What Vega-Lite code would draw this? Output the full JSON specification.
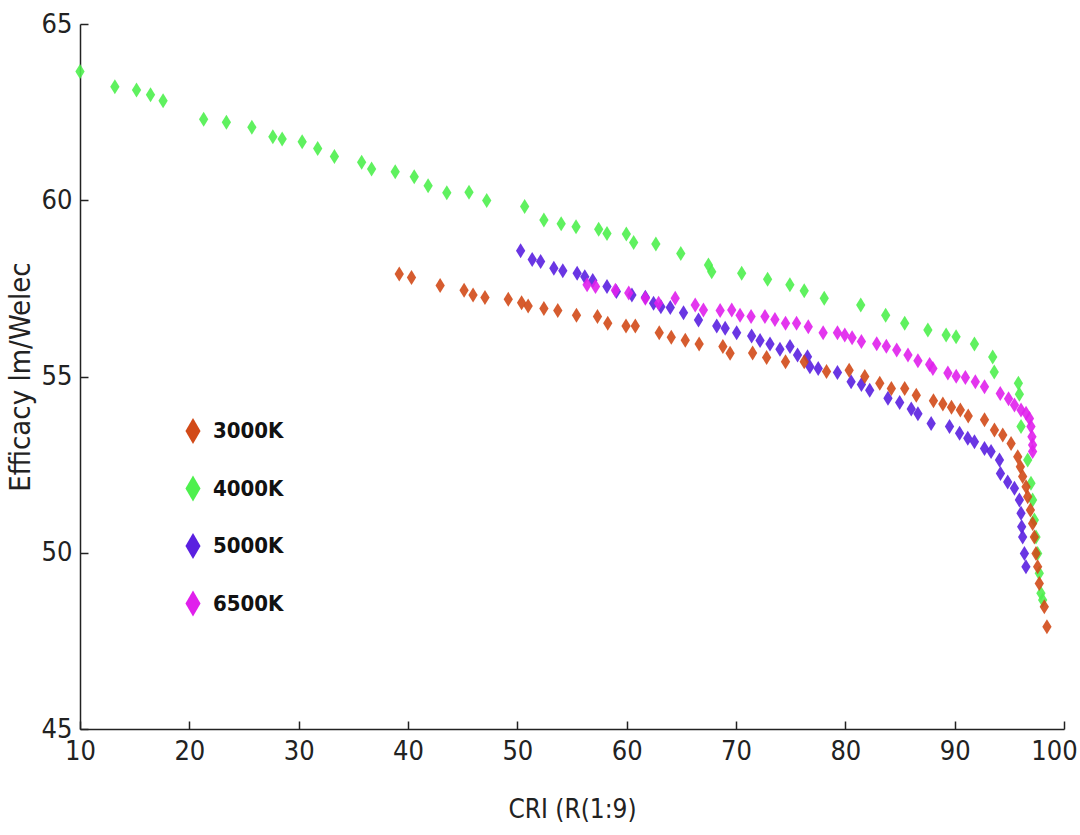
{
  "$schema": "https://vega.github.io/schema/vega-lite/v6.json",
  "width": 984,
  "height": 705,
  "autosize": {"type": "none"},
  "padding": {"left": 80, "top": 24, "right": 16, "bottom": 106},
  "background": "white",
  "config": {
    "view": {"stroke": null},
    "font": "Liberation Sans Narrow, DejaVu Sans Condensed, Liberation Sans",
    "axis": {
      "grid": false,
      "domainColor": "#222",
      "domainWidth": 1.5,
      "tickColor": "#222",
      "tickWidth": 1.5,
      "tickSize": -8,
      "labelPadding": 17,
      "labelColor": "#222",
      "labelFontSize": 27,
      "labelFont": "Liberation Sans Narrow, DejaVu Sans Condensed, Liberation Sans",
      "titleColor": "#222",
      "titleFontSize": 26,
      "titleFontWeight": "normal",
      "titleFont": "Liberation Sans Narrow, DejaVu Sans Condensed, Liberation Sans"
    }
  },
  "data": {
    "values": [
      {"cct": "4000K", "cri": 10.0, "eff": 63.65},
      {"cct": "4000K", "cri": 13.19, "eff": 63.22},
      {"cct": "4000K", "cri": 15.17, "eff": 63.13},
      {"cct": "4000K", "cri": 16.45, "eff": 62.99},
      {"cct": "4000K", "cri": 17.6, "eff": 62.82},
      {"cct": "4000K", "cri": 21.31, "eff": 62.3},
      {"cct": "4000K", "cri": 23.39, "eff": 62.21},
      {"cct": "4000K", "cri": 25.72, "eff": 62.07},
      {"cct": "4000K", "cri": 27.64, "eff": 61.8},
      {"cct": "4000K", "cri": 28.49, "eff": 61.74},
      {"cct": "4000K", "cri": 30.32, "eff": 61.66},
      {"cct": "4000K", "cri": 31.74, "eff": 61.47},
      {"cct": "4000K", "cri": 33.27, "eff": 61.24},
      {"cct": "4000K", "cri": 35.76, "eff": 61.08},
      {"cct": "4000K", "cri": 36.67, "eff": 60.89},
      {"cct": "4000K", "cri": 38.83, "eff": 60.81},
      {"cct": "4000K", "cri": 40.57, "eff": 60.67},
      {"cct": "4000K", "cri": 41.84, "eff": 60.41},
      {"cct": "4000K", "cri": 43.55, "eff": 60.21},
      {"cct": "4000K", "cri": 45.58, "eff": 60.23},
      {"cct": "4000K", "cri": 47.2, "eff": 59.99},
      {"cct": "4000K", "cri": 50.67, "eff": 59.82},
      {"cct": "4000K", "cri": 52.43, "eff": 59.44},
      {"cct": "4000K", "cri": 54.01, "eff": 59.33},
      {"cct": "4000K", "cri": 55.37, "eff": 59.25},
      {"cct": "4000K", "cri": 57.44, "eff": 59.18},
      {"cct": "4000K", "cri": 58.2, "eff": 59.06},
      {"cct": "4000K", "cri": 59.97, "eff": 59.04},
      {"cct": "4000K", "cri": 60.64, "eff": 58.8},
      {"cct": "4000K", "cri": 62.67, "eff": 58.76},
      {"cct": "4000K", "cri": 64.95, "eff": 58.49},
      {"cct": "4000K", "cri": 67.48, "eff": 58.16},
      {"cct": "4000K", "cri": 67.78, "eff": 57.97},
      {"cct": "4000K", "cri": 70.52, "eff": 57.93},
      {"cct": "4000K", "cri": 72.89, "eff": 57.76},
      {"cct": "4000K", "cri": 74.93, "eff": 57.6},
      {"cct": "4000K", "cri": 76.24, "eff": 57.43},
      {"cct": "4000K", "cri": 78.07, "eff": 57.22},
      {"cct": "4000K", "cri": 81.41, "eff": 57.03},
      {"cct": "4000K", "cri": 83.69, "eff": 56.74},
      {"cct": "4000K", "cri": 85.43, "eff": 56.51},
      {"cct": "4000K", "cri": 87.55, "eff": 56.32},
      {"cct": "4000K", "cri": 89.22, "eff": 56.18},
      {"cct": "4000K", "cri": 90.13, "eff": 56.13},
      {"cct": "4000K", "cri": 91.81, "eff": 55.92},
      {"cct": "4000K", "cri": 93.48, "eff": 55.55},
      {"cct": "4000K", "cri": 93.62, "eff": 55.13},
      {"cct": "4000K", "cri": 95.83, "eff": 54.81},
      {"cct": "4000K", "cri": 95.92, "eff": 54.5},
      {"cct": "4000K", "cri": 96.07, "eff": 53.58},
      {"cct": "4000K", "cri": 96.68, "eff": 52.63},
      {"cct": "4000K", "cri": 96.98, "eff": 51.97},
      {"cct": "4000K", "cri": 97.13, "eff": 51.5},
      {"cct": "4000K", "cri": 97.29, "eff": 50.93},
      {"cct": "4000K", "cri": 97.44, "eff": 50.45},
      {"cct": "4000K", "cri": 97.59, "eff": 49.98},
      {"cct": "4000K", "cri": 97.74, "eff": 49.42},
      {"cct": "4000K", "cri": 97.89, "eff": 48.85},
      {"cct": "4000K", "cri": 98.05, "eff": 48.66},

      {"cct": "5000K", "cri": 50.3, "eff": 58.57},
      {"cct": "5000K", "cri": 51.36, "eff": 58.32},
      {"cct": "5000K", "cri": 52.13, "eff": 58.26},
      {"cct": "5000K", "cri": 53.34, "eff": 58.07},
      {"cct": "5000K", "cri": 54.16, "eff": 58.0},
      {"cct": "5000K", "cri": 55.47, "eff": 57.93},
      {"cct": "5000K", "cri": 56.17, "eff": 57.83},
      {"cct": "5000K", "cri": 56.9, "eff": 57.72},
      {"cct": "5000K", "cri": 58.2, "eff": 57.55},
      {"cct": "5000K", "cri": 59.06, "eff": 57.41},
      {"cct": "5000K", "cri": 60.48, "eff": 57.31},
      {"cct": "5000K", "cri": 61.71, "eff": 57.25},
      {"cct": "5000K", "cri": 62.46, "eff": 57.08},
      {"cct": "5000K", "cri": 63.13, "eff": 56.98},
      {"cct": "5000K", "cri": 63.99, "eff": 56.96},
      {"cct": "5000K", "cri": 65.2, "eff": 56.81},
      {"cct": "5000K", "cri": 66.57, "eff": 56.6},
      {"cct": "5000K", "cri": 68.24, "eff": 56.43},
      {"cct": "5000K", "cri": 69.01, "eff": 56.37},
      {"cct": "5000K", "cri": 70.06, "eff": 56.24},
      {"cct": "5000K", "cri": 71.43, "eff": 56.15},
      {"cct": "5000K", "cri": 72.2, "eff": 56.02},
      {"cct": "5000K", "cri": 73.11, "eff": 55.92},
      {"cct": "5000K", "cri": 74.02, "eff": 55.77},
      {"cct": "5000K", "cri": 74.94, "eff": 55.85},
      {"cct": "5000K", "cri": 75.63, "eff": 55.61},
      {"cct": "5000K", "cri": 76.54, "eff": 55.56},
      {"cct": "5000K", "cri": 76.76, "eff": 55.28},
      {"cct": "5000K", "cri": 77.52, "eff": 55.23},
      {"cct": "5000K", "cri": 79.28, "eff": 55.11},
      {"cct": "5000K", "cri": 80.53, "eff": 54.85},
      {"cct": "5000K", "cri": 81.47, "eff": 54.77},
      {"cct": "5000K", "cri": 82.23, "eff": 54.61},
      {"cct": "5000K", "cri": 83.9, "eff": 54.38},
      {"cct": "5000K", "cri": 84.97, "eff": 54.26},
      {"cct": "5000K", "cri": 86.03, "eff": 54.08},
      {"cct": "5000K", "cri": 86.64, "eff": 53.94},
      {"cct": "5000K", "cri": 87.85, "eff": 53.67},
      {"cct": "5000K", "cri": 89.53, "eff": 53.58},
      {"cct": "5000K", "cri": 90.45, "eff": 53.39},
      {"cct": "5000K", "cri": 91.2, "eff": 53.25},
      {"cct": "5000K", "cri": 91.81, "eff": 53.15},
      {"cct": "5000K", "cri": 92.73, "eff": 52.96},
      {"cct": "5000K", "cri": 93.33, "eff": 52.87},
      {"cct": "5000K", "cri": 94.1, "eff": 52.63},
      {"cct": "5000K", "cri": 94.19, "eff": 52.25},
      {"cct": "5000K", "cri": 94.85, "eff": 52.01},
      {"cct": "5000K", "cri": 95.47, "eff": 51.83},
      {"cct": "5000K", "cri": 95.92, "eff": 51.5},
      {"cct": "5000K", "cri": 96.07, "eff": 51.12},
      {"cct": "5000K", "cri": 96.13, "eff": 50.74},
      {"cct": "5000K", "cri": 96.22, "eff": 50.45},
      {"cct": "5000K", "cri": 96.38, "eff": 49.98},
      {"cct": "5000K", "cri": 96.52, "eff": 49.6},

      {"cct": "6500K", "cri": 56.38, "eff": 57.6},
      {"cct": "6500K", "cri": 57.15, "eff": 57.55},
      {"cct": "6500K", "cri": 58.97, "eff": 57.45},
      {"cct": "6500K", "cri": 60.19, "eff": 57.37},
      {"cct": "6500K", "cri": 61.71, "eff": 57.22},
      {"cct": "6500K", "cri": 62.92, "eff": 57.08},
      {"cct": "6500K", "cri": 64.44, "eff": 57.22},
      {"cct": "6500K", "cri": 66.27, "eff": 57.03},
      {"cct": "6500K", "cri": 67.02, "eff": 56.89},
      {"cct": "6500K", "cri": 68.55, "eff": 56.87},
      {"cct": "6500K", "cri": 69.61, "eff": 56.89},
      {"cct": "6500K", "cri": 70.37, "eff": 56.74},
      {"cct": "6500K", "cri": 71.38, "eff": 56.7},
      {"cct": "6500K", "cri": 72.65, "eff": 56.7},
      {"cct": "6500K", "cri": 73.56, "eff": 56.62},
      {"cct": "6500K", "cri": 74.53, "eff": 56.51},
      {"cct": "6500K", "cri": 75.54, "eff": 56.51},
      {"cct": "6500K", "cri": 76.61, "eff": 56.41},
      {"cct": "6500K", "cri": 77.97, "eff": 56.24},
      {"cct": "6500K", "cri": 79.28, "eff": 56.24},
      {"cct": "6500K", "cri": 79.95, "eff": 56.18},
      {"cct": "6500K", "cri": 80.62, "eff": 56.1},
      {"cct": "6500K", "cri": 81.47, "eff": 55.99},
      {"cct": "6500K", "cri": 82.87, "eff": 55.93},
      {"cct": "6500K", "cri": 83.75, "eff": 55.86},
      {"cct": "6500K", "cri": 84.7, "eff": 55.75},
      {"cct": "6500K", "cri": 85.73, "eff": 55.61},
      {"cct": "6500K", "cri": 86.64, "eff": 55.45},
      {"cct": "6500K", "cri": 87.71, "eff": 55.34},
      {"cct": "6500K", "cri": 88.01, "eff": 55.23},
      {"cct": "6500K", "cri": 89.38, "eff": 55.1},
      {"cct": "6500K", "cri": 90.14, "eff": 55.01},
      {"cct": "6500K", "cri": 90.98, "eff": 54.97},
      {"cct": "6500K", "cri": 91.89, "eff": 54.85},
      {"cct": "6500K", "cri": 92.73, "eff": 54.71},
      {"cct": "6500K", "cri": 94.17, "eff": 54.52},
      {"cct": "6500K", "cri": 94.93, "eff": 54.37},
      {"cct": "6500K", "cri": 95.47, "eff": 54.19},
      {"cct": "6500K", "cri": 96.07, "eff": 54.05},
      {"cct": "6500K", "cri": 96.53, "eff": 53.96},
      {"cct": "6500K", "cri": 96.84, "eff": 53.81},
      {"cct": "6500K", "cri": 96.98, "eff": 53.58},
      {"cct": "6500K", "cri": 97.07, "eff": 53.29},
      {"cct": "6500K", "cri": 97.13, "eff": 53.06},
      {"cct": "6500K", "cri": 97.13, "eff": 52.87},

      {"cct": "3000K", "cri": 39.2, "eff": 57.91},
      {"cct": "3000K", "cri": 40.32, "eff": 57.81},
      {"cct": "3000K", "cri": 42.94, "eff": 57.58},
      {"cct": "3000K", "cri": 45.13, "eff": 57.45},
      {"cct": "3000K", "cri": 45.95, "eff": 57.31},
      {"cct": "3000K", "cri": 47.04, "eff": 57.24},
      {"cct": "3000K", "cri": 49.17, "eff": 57.19},
      {"cct": "3000K", "cri": 50.39, "eff": 57.09},
      {"cct": "3000K", "cri": 50.99, "eff": 57.0},
      {"cct": "3000K", "cri": 52.43, "eff": 56.93},
      {"cct": "3000K", "cri": 53.7, "eff": 56.87},
      {"cct": "3000K", "cri": 55.41, "eff": 56.74},
      {"cct": "3000K", "cri": 57.33, "eff": 56.7},
      {"cct": "3000K", "cri": 58.27, "eff": 56.51},
      {"cct": "3000K", "cri": 59.94, "eff": 56.43},
      {"cct": "3000K", "cri": 60.79, "eff": 56.43},
      {"cct": "3000K", "cri": 62.98, "eff": 56.24},
      {"cct": "3000K", "cri": 64.08, "eff": 56.11},
      {"cct": "3000K", "cri": 65.36, "eff": 56.03},
      {"cct": "3000K", "cri": 66.63, "eff": 55.92},
      {"cct": "3000K", "cri": 68.8, "eff": 55.85},
      {"cct": "3000K", "cri": 69.46, "eff": 55.66},
      {"cct": "3000K", "cri": 71.52, "eff": 55.67},
      {"cct": "3000K", "cri": 72.8, "eff": 55.54},
      {"cct": "3000K", "cri": 74.53, "eff": 55.42},
      {"cct": "3000K", "cri": 76.24, "eff": 55.42},
      {"cct": "3000K", "cri": 78.28, "eff": 55.14},
      {"cct": "3000K", "cri": 80.35, "eff": 55.18},
      {"cct": "3000K", "cri": 81.78, "eff": 55.0},
      {"cct": "3000K", "cri": 83.15, "eff": 54.81},
      {"cct": "3000K", "cri": 84.21, "eff": 54.66},
      {"cct": "3000K", "cri": 85.43, "eff": 54.66},
      {"cct": "3000K", "cri": 86.49, "eff": 54.47},
      {"cct": "3000K", "cri": 88.06, "eff": 54.31},
      {"cct": "3000K", "cri": 88.92, "eff": 54.22},
      {"cct": "3000K", "cri": 89.71, "eff": 54.13},
      {"cct": "3000K", "cri": 90.52, "eff": 54.05},
      {"cct": "3000K", "cri": 91.24, "eff": 53.88},
      {"cct": "3000K", "cri": 92.73, "eff": 53.77},
      {"cct": "3000K", "cri": 93.64, "eff": 53.48},
      {"cct": "3000K", "cri": 94.4, "eff": 53.34},
      {"cct": "3000K", "cri": 95.16, "eff": 53.1},
      {"cct": "3000K", "cri": 95.77, "eff": 52.72},
      {"cct": "3000K", "cri": 96.01, "eff": 52.44},
      {"cct": "3000K", "cri": 96.22, "eff": 52.16},
      {"cct": "3000K", "cri": 96.53, "eff": 51.87},
      {"cct": "3000K", "cri": 96.68, "eff": 51.59},
      {"cct": "3000K", "cri": 96.93, "eff": 51.21},
      {"cct": "3000K", "cri": 97.13, "eff": 50.83},
      {"cct": "3000K", "cri": 97.29, "eff": 50.45},
      {"cct": "3000K", "cri": 97.44, "eff": 49.98},
      {"cct": "3000K", "cri": 97.59, "eff": 49.6},
      {"cct": "3000K", "cri": 97.74, "eff": 49.13},
      {"cct": "3000K", "cri": 98.2, "eff": 48.47},
      {"cct": "3000K", "cri": 98.44, "eff": 47.9}
    ]
  },
  "mark": {
    "type": "point",
    "filled": true,
    "opacity": 0.9,
    "size": 225,
    "shape": "M0,-1L0.62,0L0,1L-0.62,0Z"
  },
  "encoding": {
    "x": {
      "field": "cri",
      "type": "quantitative",
      "scale": {"domain": [10, 100], "nice": false, "zero": false},
      "axis": {
        "title": "CRI (R(1:9)",
        "values": [10, 20, 30, 40, 50, 60, 70, 80, 90, 100],
        "titlePadding": 32,
        "labelFlush": false,
        "labelOffset": {"condition": {"test": "datum.value == 100", "value": -10}, "value": 0}
      }
    },
    "y": {
      "field": "eff",
      "type": "quantitative",
      "scale": {"domain": [45, 65], "nice": false, "zero": false},
      "axis": {
        "title": "Efficacy lm/Welec",
        "titleFontSize": 29,
        "values": [45, 50, 55, 60, 65],
        "labelPadding": 16,
        "titlePadding": 6,
        "labelFlush": false
      }
    },
    "color": {
      "field": "cct",
      "type": "nominal",
      "scale": {
        "domain": ["3000K", "4000K", "5000K", "6500K"],
        "range": ["#d24a18", "#4ef04e", "#5a20e0", "#e020ec"]
      },
      "legend": {
        "title": null,
        "orient": "none",
        "legendX": 100,
        "legendY": 394,
        "symbolType": "M0,-1L0.58,0L0,1L-0.58,0Z",
        "symbolSize": 676,
        "symbolStrokeWidth": 0,
        "symbolOpacity": 1,
        "labelFontSize": 22,
        "labelFontWeight": "bold",
        "labelColor": "#111",
        "labelFont": "Liberation Sans Narrow, DejaVu Sans Condensed, Liberation Sans",
        "labelOffset": 7,
        "rowPadding": 31.5,
        "padding": 0
      }
    },
    "order": {"value": 0}
  }
}
